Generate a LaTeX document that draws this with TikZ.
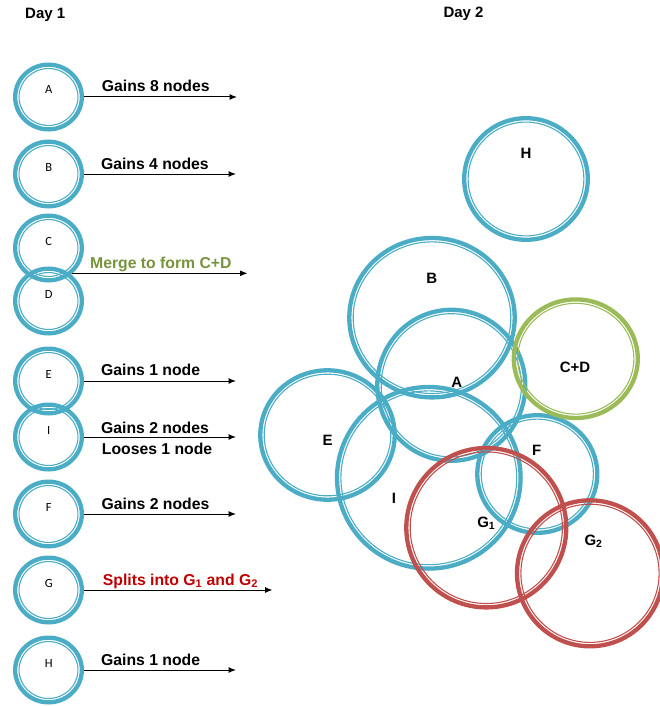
\documentclass[tikz,border=0pt]{standalone}
\usepackage{fontspec}
\setmainfont{Liberation Sans}
\newfontfamily\tagfont{Carlito}
\usetikzlibrary{calc,shapes.geometric,arrows.meta}

\definecolor{ringblue}{RGB}{75,172,198}
\definecolor{ringgreen}{RGB}{155,187,89}
\definecolor{ringred}{RGB}{192,80,77}
\definecolor{mergegreen}{RGB}{119,147,60}
\definecolor{splitred}{RGB}{192,0,0}

\tikzset{
  ring/.style={ellipse, draw=#1, line width=4.3pt, inner sep=0pt,
    path picture={\draw[#1, line width=1.1pt]
      let \p1=(path picture bounding box.north east),
          \p2=(path picture bounding box.center) in
      (\p2) ellipse[x radius=\x1-\x2-3.9pt, y radius=\y1-\y2-3.9pt];}},
  tag/.style={font=\tagfont\fontsize{12.5}{14}\selectfont, anchor=base, inner sep=0pt},
  bigtag/.style={font=\fontsize{15}{18}\selectfont\bfseries, anchor=base, inner sep=0pt},
  daylbl/.style={font=\fontsize{15}{18}\selectfont\bfseries, anchor=base west, inner sep=0pt},
  note/.style={font=\fontsize{15.75}{18}\selectfont\bfseries, anchor=base west, inner sep=0pt},
  flow/.style={-{Latex[length=7.5pt,width=6pt]}, line width=1pt},
}

\begin{document}
\begin{tikzpicture}[x=1pt, y=-1pt]
  \useasboundingbox (0,0) rectangle (660,706);

  \node[daylbl] (day1) at (25,19) {Day 1};
  \node[daylbl] (day2) at (443.3,17.5) {Day 2};

  % day 1
  \foreach \n/\y in {A/97,B/174,C/248,D/301,E/381,I/437,F/514,G/590,H/670}{
    \node[ring=ringblue, minimum width=66.7pt, minimum height=64.7pt] (d1\n) at (48.5,\y) {};
    \node[tag] (t\n) at (48.8,\y-3) {\n};
  }

  \coordinate (eA) at (237,97);
  \coordinate (eB) at (236,174);
  \coordinate (cd) at (72,273.3);
  \coordinate (eCD) at (247.5,273.3);
  \coordinate (eE) at (236,381);
  \coordinate (eI) at (236,437);
  \coordinate (eF) at (236,514);
  \coordinate (eG) at (272.5,590);
  \coordinate (eH) at (236,670);

  \draw[flow] (d1A.east) -- (eA);
  \draw[flow] (d1B.east) -- (eB);
  \draw[flow] (cd) -- (eCD);
  \draw[flow] (d1E.east) -- (eE);
  \draw[flow] (d1I.east) -- (eI);
  \draw[flow] (d1F.east) -- (eF);
  \draw[flow] (d1G.east) -- (eG);
  \draw[flow] (d1H.east) -- (eH);

  \node[note] (nA) at (101.7,91.5) {Gains 8 nodes};
  \node[note] (nB) at (100.8,169.3) {Gains 4 nodes};
  \node[note, text=mergegreen] (nCD) at (90,268.5) {Merge to form C+D};
  \node[note] (nE) at (101,375.5) {Gains 1 node};
  \node[note] (nI) at (101,433) {Gains 2 nodes};
  \node[note] (nI2) at (101.7,454) {Looses 1 node};
  \node[note] (nF) at (101.5,509.5) {Gains 2 nodes};
  \node[note, text=splitred] (nG) at (102.7,585) {Splits into G\textsubscript{1} and G\textsubscript{2}};
  \node[note] (nH) at (101,665) {Gains 1 node};

  % day 2
  \node[ring=ringblue, minimum width=123.6pt, minimum height=121.6pt] (d2H) at (526,179) {};
  \node[ring=ringblue, minimum width=165.4pt, minimum height=159.4pt] (d2B) at (432,317.7) {};
  \node[ring=ringblue, minimum width=148pt, minimum height=151pt] (d2A) at (451.3,385.3) {};
  \node[ring=ringblue, minimum width=134.4pt, minimum height=129.4pt] (d2E) at (327.5,435) {};
  \node[ring=ringblue, minimum width=183.6pt, minimum height=181.6pt] (d2I) at (428.8,477.8) {};
  \node[ring=ringblue, minimum width=120pt, minimum height=117.6pt] (d2F) at (537.3,474) {};
  \node[ring=ringred, minimum width=160pt, minimum height=159.4pt] (d2G1) at (486.3,527.7) {};
  \node[ring=ringred, minimum width=146pt, minimum height=146pt] (d2G2) at (590,573.3) {};
  \node[ring=ringgreen, minimum width=124pt, minimum height=118.6pt] (d2CD) at (575.8,358.7) {};

  \node[bigtag] (lH) at (526,158.3) {H};
  \node[bigtag] (lB) at (431.7,283.3) {B};
  \node[bigtag] (lA) at (456.7,387.7) {A};
  \node[bigtag] (lCD) at (575,372.7) {C+D};
  \node[bigtag] (lE) at (327.7,445) {E};
  \node[bigtag] (lI) at (394,503.3) {I};
  \node[bigtag] (lF) at (536.7,455) {F};
  \node[bigtag] (lG1) at (486.3,527.3) {G\textsubscript{1}};
  \node[bigtag] (lG2) at (593.5,545) {G\textsubscript{2}};
\end{tikzpicture}
\end{document}
